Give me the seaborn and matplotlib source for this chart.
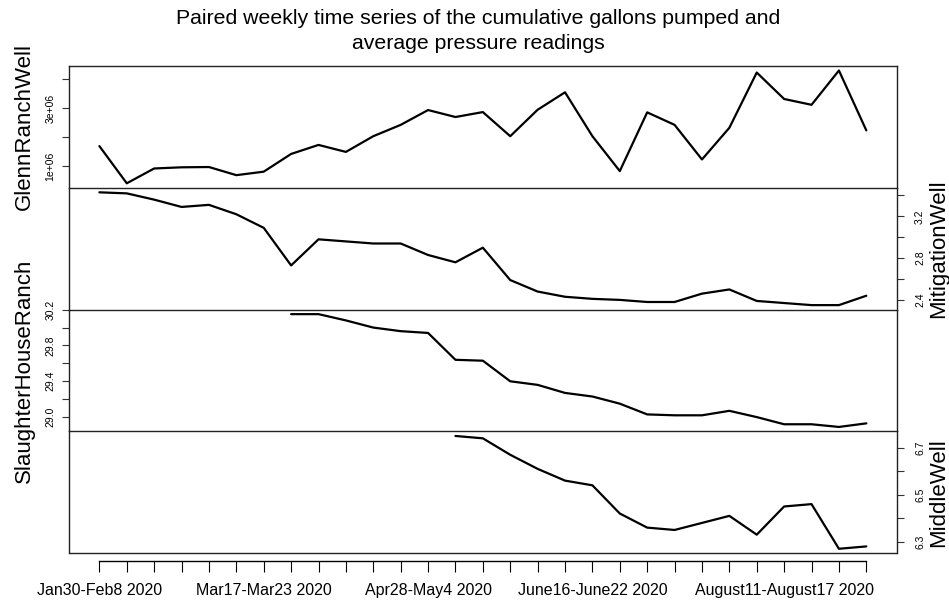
import numpy as np
import pandas as pd
import matplotlib
matplotlib.use("Agg")
import matplotlib.pyplot as plt
import seaborn as sns

# week labels shown on the x axis (the rest of the ticks carry no label)
n_weeks = 29
label_weeks = [0, 6, 12, 18, 25]
label_text = ["Jan30-Feb8 2020", "Mar17-Mar23 2020", "Apr28-May4 2020",
              "June16-June22 2020", "August11-August17 2020"]

# series (first week each series has data)
glenn_start = 0
glenn = [1.70e6, 0.42e6, 0.93e6, 0.97e6, 0.98e6, 0.70e6, 0.82e6, 1.43e6, 1.74e6,
         1.50e6, 2.04e6, 2.43e6, 2.94e6, 2.70e6, 2.87e6, 2.04e6, 2.95e6, 3.55e6,
         2.04e6, 0.84e6, 2.86e6, 2.43e6, 1.24e6, 2.33e6, 4.23e6, 3.32e6, 3.12e6,
         4.30e6, 2.24e6]
mitig_start = 0
mitig = [3.43, 3.42, 3.36, 3.29, 3.31, 3.22, 3.09, 2.73, 2.98, 2.96, 2.94, 2.94,
         2.83, 2.76, 2.90, 2.59, 2.48, 2.43, 2.41, 2.40, 2.38, 2.38, 2.46, 2.50,
         2.39, 2.37, 2.35, 2.35, 2.44]
slaughter_start = 7
slaughter = [30.15, 30.15, 30.08, 30.00, 29.96, 29.94, 29.64, 29.63, 29.40, 29.36,
             29.27, 29.23, 29.15, 29.03, 29.02, 29.02, 29.07, 29.00, 28.92, 28.92,
             28.89, 28.93]
middle_start = 13
middle = [6.75, 6.74, 6.67, 6.61, 6.56, 6.54, 6.42, 6.36, 6.35, 6.38, 6.41, 6.33,
          6.45, 6.46, 6.27, 6.28]

panels = [
    ("GlennRanchWell", glenn_start, glenn, "left",
     [1e6, 2e6, 3e6, 4e6], ["1e+06", "", "3e+06", ""]),
    ("MitigationWell", mitig_start, mitig, "right",
     [2.4, 2.6, 2.8, 3.0, 3.2, 3.4], ["2.4", "", "2.8", "", "3.2", ""]),
    ("SlaughterHouseRanch", slaughter_start, slaughter, "left",
     [29.0, 29.2, 29.4, 29.6, 29.8, 30.0, 30.2],
     ["29.0", "", "29.4", "", "29.8", "", "30.2"]),
    ("MiddleWell", middle_start, middle, "right",
     [6.3, 6.4, 6.5, 6.6, 6.7], ["6.3", "", "6.5", "", "6.7"]),
]

sns.set_theme(style="white")
plt.rcParams['font.family'] = ['Liberation Sans', 'DejaVu Sans']
plt.rcParams['text.color'] = 'black'
plt.rcParams['xtick.color'] = 'black'
plt.rcParams['ytick.color'] = 'black'
plt.rcParams['axes.facecolor'] = 'none'

fig = plt.figure(figsize=(9.49, 6.01), dpi=100)
axes = fig.subplots(4, 1, sharex=True)
fig.subplots_adjust(left=0.0724, right=0.9452, top=0.8902, bottom=0.0794, hspace=0)

pad = 0.04 * (n_weeks - 1)
for i, (name, start, vals, side, yt, ytl) in enumerate(panels):
    ax = axes[i]
    ax.set_facecolor("none")
    df = pd.DataFrame({"week": np.arange(start, start + len(vals)), name: vals})
    sns.lineplot(data=df, x="week", y=name, ax=ax, color="black", linewidth=1.6)
    ax.set_xlim(-pad, n_weeks - 1 + pad)
    ax.margins(y=0.04)
    ax.set_xlabel("")
    ax.set_ylabel("")
    ax.set_yticks(yt)
    ax.set_yticklabels(ytl)
    for s in ax.spines.values():
        s.set_color("#222222")
        s.set_linewidth(1.0)
    ax.spines["top"].set_visible(i == 0)
    ymid = 0.5 * (ax.get_position().y0 + ax.get_position().y1)
    if side == "left":
        ax.yaxis.tick_left()
        ax.tick_params(axis="y", which="both", left=True, right=False, length=5,
                       width=0.8, color="#333333", labelsize=7.5, pad=4.5,
                       labelrotation=90)
        lx = 24 / 949
    else:
        ax.yaxis.tick_right()
        ax.tick_params(axis="y", which="both", left=False, right=True, length=5,
                       width=0.8, color="#333333", labelsize=7.5, pad=8,
                       labelrotation=90)
        lx = 939 / 949
    for t in ax.get_yticklabels():
        t.set_va("center")
    fig.text(lx, ymid, name, rotation=90, ha="center", va="center", fontsize=16)
    if i < 3:
        ax.tick_params(axis="x", bottom=False, labelbottom=False)

# bottom axis: separate R-style axis line below the box
bx = axes[-1]
bx.plot([0, 1], [0, 0], transform=bx.transAxes, color="#222222", lw=1.0, clip_on=False)
bx.spines["bottom"].set_position(("outward", 5.5))
bx.spines["bottom"].set_bounds(0, n_weeks - 1)
bx.spines["bottom"].set_color("black")
bx.set_xticks(range(n_weeks))
xlabels = [""] * n_weeks
for w, t in zip(label_weeks, label_text):
    xlabels[w] = t
bx.set_xticklabels(xlabels)
bx.tick_params(axis="x", bottom=True, length=8, width=0.8, color="black",
               labelsize=11.5, pad=8)

fig.text(478 / 949, 1 - 31 / 601,
         "Paired weekly time series of the cumulative gallons pumped and\naverage pressure readings",
         ha="center", va="center", fontsize=15.3, linespacing=1.35)

fig.savefig("out.png", dpi=100)
